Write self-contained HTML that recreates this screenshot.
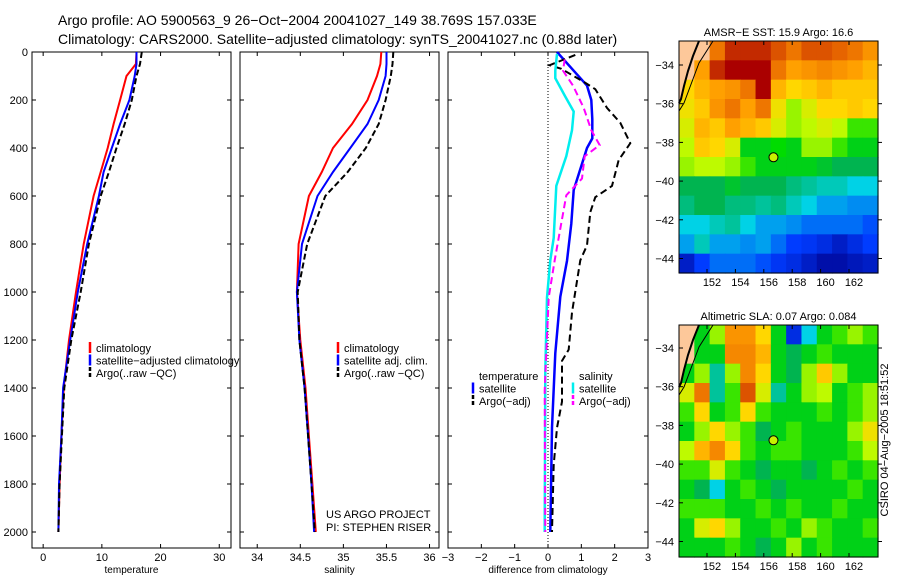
<!DOCTYPE html>
<html><head><meta charset="utf-8"><style>
html,body{margin:0;padding:0;background:#fff;}
svg{display:block;font-family:"Liberation Sans",sans-serif;}
</style></head><body>
<svg id="c" width="900" height="580" viewBox="0 0 900 580" xmlns="http://www.w3.org/2000/svg">
<text x="58" y="25" font-size="14">Argo profile: AO 5900563_9 26−Oct−2004 20041027_149 38.769S 157.033E</text>
<text x="58" y="44" font-size="14">Climatology: CARS2000. Satellite−adjusted climatology: synTS_20041027.nc (0.88d later)</text>
<text x="888" y="440" font-size="11" text-anchor="middle" transform="rotate(-90 888 440)">CSIRO 04−Aug−2005 18:51:52</text>
<text x="326" y="518" font-size="11">US ARGO PROJECT</text>
<text x="326" y="531" font-size="11">PI: STEPHEN RISER</text>
</svg>
<script>
// ---- profile data ----
const depthT = [0,50,100,200,300,400,500,600,800,1000,1200,1400,1600,1800,2000];
const tempClim = [15.9,15.8,14.2,13.1,12.0,11.0,9.8,8.6,6.9,5.6,4.4,3.5,3.1,2.8,2.6];
const tempSat  = [15.9,15.9,15.6,14.7,13.1,11.7,10.3,9.5,7.5,5.9,4.6,3.4,3.1,2.7,2.6];
const tempArgo = [16.8,16.5,15.9,15.1,13.9,12.5,11.2,9.8,7.8,6.4,4.8,3.6,3.2,2.8,2.6];
const salClim = [35.44,35.43,35.39,35.28,35.10,34.88,34.75,34.60,34.48,34.46,34.50,34.56,34.60,34.64,34.68];
const salSat  = [35.50,35.50,35.49,35.41,35.28,35.08,34.88,34.70,34.52,34.46,34.49,34.55,34.59,34.63,34.66];
const salArgo = [35.58,35.57,35.55,35.49,35.41,35.26,35.05,34.79,34.58,34.47,34.49,34.55,34.59,34.63,34.67];
const dTSatDepth = [0,70,140,200,280,360,400,575,715,870,1020,1255,1565,2000];
const dTSat = [0.27,0.72,1.17,1.30,1.33,1.33,1.17,0.77,0.70,0.57,0.37,0.22,0.12,0.07];
const dTArgoDepth = [12,55,70,124,155,233,295,380,450,558,605,667,806,868,1085,1240,1287,1457,1566,1721,2000];
const dTArgo = [0.82,0.05,0.40,1.07,1.42,1.77,2.17,2.47,2.12,1.92,1.42,1.27,1.17,0.97,0.72,0.62,0.42,0.42,0.27,0.17,0.12];
const dSSatDepth = [8,78,109,186,248,326,434,558,775,868,1023,1333,2000];
const dSSat = [0.27,0.22,0.22,0.52,0.77,0.72,0.55,0.25,0.17,0.07,-0.03,-0.08,-0.10];
const dSArgoDepth = [31,78,140,233,326,388,434,527,597,713,868,1023,1411,2000];
const dSArgo = [0.50,0.45,0.75,1.07,1.30,1.55,1.10,1.02,0.55,0.40,0.20,0.02,-0.10,-0.08];
const depthTicks = [0,200,400,600,800,1000,1200,1400,1600,1800,2000];
const tempTicks = [0,10,20,30];
const salTicks = [34,34.5,35,35.5,36];
const diffTicks = [-3,-2,-1,0,1,2,3];
// ---- map data (values 0..1 on colour scale, -1 = land) ----
const sstGrid = [
[-1,-1,.85,.95,.95,.95,.9,.85,.9,.9,.88,.85,.8],
[-1,.78,.95,1,1,1,.85,.78,.8,.82,.8,.78,.75],
[.7,.75,.78,.8,.85,1,.75,.7,.72,.75,.72,.72,.72],
[.68,.72,.8,.85,.78,.85,.68,.6,.65,.7,.7,.72,.7],
[.65,.75,.72,.78,.75,.72,.65,.6,.62,.65,.62,.55,.55],
[.62,.72,.7,.65,.5,.5,.52,.5,.6,.6,.55,.5,.5],
[.6,.62,.62,.6,.55,.5,.5,.5,.5,.48,.45,.45,.45],
[.45,.45,.45,.48,.45,.45,.45,.42,.4,.38,.38,.35,.35],
[.42,.45,.45,.42,.42,.4,.42,.38,.35,.3,.3,.28,.28],
[.35,.35,.38,.4,.35,.3,.3,.28,.25,.25,.25,.25,.22],
[.3,.38,.3,.3,.28,.3,.25,.2,.18,.15,.1,.15,.2],
[.1,.2,.25,.25,.25,.22,.18,.15,.1,.05,.05,.08,.1]];
const slaGrid = [
[-1,.5,.6,.8,.8,.7,.5,.15,.35,.5,.55,.6,.55],
[-1,.5,.5,.82,.82,.75,.5,.45,.5,.55,.5,.5,.5],
[.5,.6,.4,.6,.82,.7,.5,.45,.6,.72,.6,.5,.5],
[.65,.85,.4,.55,.9,.65,.4,.5,.6,.62,.5,.55,.6],
[.55,.7,.5,.55,.7,.55,.5,.5,.5,.55,.5,.55,.6],
[.5,.6,.7,.6,.55,.45,.5,.55,.5,.5,.5,.6,.68],
[.62,.75,.82,.7,.55,.5,.55,.55,.5,.5,.5,.55,.62],
[.55,.55,.65,.55,.5,.45,.5,.5,.45,.5,.55,.5,.55],
[.5,.45,.35,.5,.55,.5,.45,.5,.5,.5,.5,.55,.5],
[.55,.55,.55,.5,.5,.55,.5,.55,.5,.5,.55,.5,.5],
[.5,.65,.7,.6,.5,.5,.55,.5,.6,.55,.5,.5,.55],
[.5,.5,.5,.55,.5,.45,.5,.6,.5,.55,.5,.5,.5]];
const lonTicks = [152,154,156,158,160,162];
const latTicks = [-34,-36,-38,-40,-42,-44];
const argoPos = [157.033,-38.769];

const NS='http://www.w3.org/2000/svg';
const svg=document.getElementById('c');
function mk(tag,attrs,parent){const e=document.createElementNS(NS,tag);for(const k in attrs)e.setAttribute(k,attrs[k]);(parent||svg).appendChild(e);return e;}
const yD=d=>52+d*0.24;
const panels=[
 {x0:32,x1:231,v0:-1.9,v1:32.0,ticks:tempTicks,label:'temperature',name:'temperature-panel',labels:true},
 {x0:240,x1:439,v0:33.8,v1:36.11,ticks:salTicks,label:'salinity',name:'salinity-panel'},
 {x0:448,x1:648,v0:-3,v1:3,ticks:diffTicks,label:'difference from climatology',name:'difference-panel'}];
panels.forEach((p,i)=>{
 p.x=v=>p.x0+(v-p.v0)/(p.v1-p.v0)*(p.x1-p.x0);
 const g=mk('g',{});
 
 
 p.g=g;
 const r=mk('rect',{x:p.x0,y:52,width:p.x1-p.x0,height:496,fill:'none',stroke:'#000','stroke-width':1},g);
 
 
 depthTicks.forEach(d=>{
  mk('line',{x1:p.x0,x2:p.x0+4,y1:yD(d),y2:yD(d),stroke:'#000'},g);
  mk('line',{x1:p.x1,x2:p.x1-4,y1:yD(d),y2:yD(d),stroke:'#000'},g);
  if(i===0){const t=mk('text',{x:28,y:yD(d)+4,'font-size':11,'text-anchor':'end'},g);t.textContent=d;
   
   }
 });
 p.ticks.forEach(v=>{
  const xx=p.x(v);
  mk('line',{x1:xx,x2:xx,y1:548,y2:544,stroke:'#000'},g);
  mk('line',{x1:xx,x2:xx,y1:52,y2:56,stroke:'#000'},g);
  const t=mk('text',{x:xx,y:561,'font-size':11,'text-anchor':'middle'},g);t.textContent=String(v).replace('-','−');
  
  
 });
 const xl=mk('text',{x:(p.x0+p.x1)/2,y:573,'font-size':10,'text-anchor':'middle'},g);xl.textContent=p.label;
 
 
});
function line(p,vals,depths,color,dash,w,name){
 const pts=vals.map((v,k)=>p.x(v).toFixed(1)+','+yD(depths[k]).toFixed(1)).join(' ');
 const e=mk('polyline',{points:pts,fill:'none',stroke:color,'stroke-width':w||2,'stroke-dasharray':dash||'none'},p.g);
 
 
}
// zero line in diff panel
mk('line',{x1:panels[2].x(0),x2:panels[2].x(0),y1:52,y2:548,stroke:'#000','stroke-dasharray':'1,2'},panels[2].g);
line(panels[0],tempClim,depthT,'#f00',null,2,'temp-climatology-line');
line(panels[0],tempSat,depthT,'#00f',null,2,'temp-satellite-line');
line(panels[0],tempArgo,depthT,'#000','6,3',2,'temp-argo-line');
line(panels[1],salClim,depthT,'#f00',null,2,'sal-climatology-line');
line(panels[1],salSat,depthT,'#00f',null,2,'sal-satellite-line');
line(panels[1],salArgo,depthT,'#000','6,3',2,'sal-argo-line');
line(panels[2],dTSat,dTSatDepth,'#00f',null,2.5,'temp-sat-diff-line');
line(panels[2],dTArgo,dTArgoDepth,'#000','7,4',2,'temp-argo-diff-line');
line(panels[2],dSSat,dSSatDepth,'#0ee',null,2.5,'sal-sat-diff-line');
line(panels[2],dSArgo,dSArgoDepth,'#f0f','7,4',2,'sal-argo-diff-line');
// legends
function legend(x,y,items,name){
 const g=mk('g',{});
 
 
 items.forEach((it,k)=>{
  const yy=y+k*12.5;
  if(it[1]){const m=mk('line',{x1:x,x2:x,y1:yy-10,y2:yy+1,stroke:it[1],'stroke-width':2.5,'stroke-dasharray':it[2]?'4,2':'none'},g);
   
   }
  const t=mk('text',{x:x+6,y:yy,'font-size':11},g);t.textContent=it[0];
  
  
 });
}
legend(90,380-28,[['climatology','#f00'],['satellite−adjusted climatology','#00f'],['Argo(..raw −QC)','#000',1]],'temperature-legend');
legend(338,380-28,[['climatology','#f00'],['satellite adj. clim.','#00f'],['Argo(..raw −QC)','#000',1]],'salinity-legend');
legend(473,380,[['temperature',null],['satellite','#00f'],['Argo(−adj)','#000',1]],'diff-temp-legend');
legend(573,380,[['salinity',null],['satellite','#0ee'],['Argo(−adj)','#f0f',1]],'diff-sal-legend');
// ---- maps ----
const stops=[[0,[0,0,140]],[.2,[0,60,255]],[.35,[0,210,230]],[.45,[0,180,80]],[.52,[0,220,0]],[.62,[190,250,0]],[.7,[255,215,0]],[.78,[255,160,0]],[.88,[230,100,0]],[1,[170,0,0]]];
function col(v){for(let i=1;i<stops.length;i++){if(v<=stops[i][0]){const a=stops[i-1],b=stops[i],t=(v-a[0])/(b[0]-a[0]);return 'rgb('+a[1].map((c,j)=>Math.round(c+(b[1][j]-c)*t)).join(',')+')';}}return 'rgb(170,0,0)';}
function map(grid,top,lat34,title,name){
 const L=679,R=878,B=top+232;
 const g=mk('g',{});
 
 
 const lonX=l=>707+(l-152)*14.2;
 const latY=a=>lat34+(-34-a)*19.35;
 const cw=(R-L)/grid[0].length,ch=(B-top)/grid.length;
 grid.forEach((row,r)=>row.forEach((v,c)=>{
  const e=mk('rect',{x:(L+c*cw).toFixed(2),y:(top+r*ch).toFixed(2),width:(cw+0.6).toFixed(2),height:(ch+0.6).toFixed(2),fill:v<0?'#fdc89a':col(v)},g);
  
  
 }));
 const land=mk('polygon',{points:`${L},${top} 699,${top} 693,${top+15} 688,${top+30} 684,${top+45} 681,${top+58} ${L},${top+62}`,fill:'#fdc89a'},g);
 
 
 const coast=mk('polyline',{points:`699,${top} 693,${top+15} 688,${top+30} 684,${top+45} 681,${top+58} ${L},${top+62}`,fill:'none',stroke:'#000','stroke-width':2},g);
 
 
 const iso=mk('polyline',{points:`713,${top} 699,${top+22} 690,${top+46} 684,${top+62} ${L},${top+70}`,fill:'none',stroke:'#000','stroke-width':1},g);
 
 
 mk('rect',{x:L,y:top,width:R-L,height:B-top,fill:'none',stroke:'#000'},g);
 lonTicks.forEach(l=>{const x=lonX(l);
  mk('line',{x1:x,x2:x,y1:B,y2:B-4,stroke:'#000'},g);mk('line',{x1:x,x2:x,y1:top,y2:top+4,stroke:'#000'},g);
  const t=mk('text',{x:x+5,y:B+13,'font-size':11,'text-anchor':'middle'},g);t.textContent=l;
  
  });
 latTicks.forEach(a=>{const y=latY(a);
  mk('line',{x1:L,x2:L+4,y1:y,y2:y,stroke:'#000'},g);mk('line',{x1:R,x2:R+4,y1:y,y2:y,stroke:'#000'},g);
  const t=mk('text',{x:674,y:y+4,'font-size':11,'text-anchor':'end'},g);t.textContent=String(a).replace('-','−');
  
  });
 const tt=mk('text',{x:(L+R)/2,y:top-5,'font-size':11,'text-anchor':'middle'},g);tt.textContent=title;
 
 
 const ci=mk('circle',{cx:lonX(argoPos[0])-5,cy:latY(argoPos[1]),r:4.5,fill:'#c8f000',stroke:'#000','stroke-width':1},g);
 
 
}
map(sstGrid,41,65,'AMSR−E SST: 15.9 Argo: 16.6','sst-map');
map(slaGrid,325,348,'Altimetric SLA: 0.07 Argo: 0.084','sla-map');
</script>
</body></html>
